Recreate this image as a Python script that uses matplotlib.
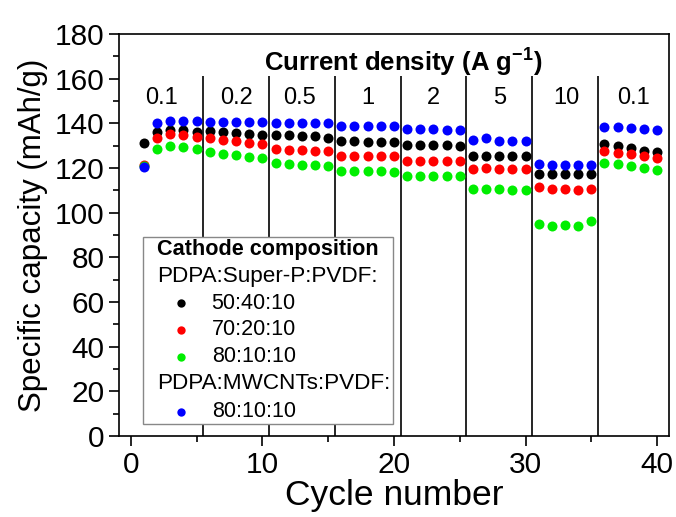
import matplotlib
matplotlib.use("Agg")
import matplotlib.pyplot as plt
from matplotlib.patches import Rectangle
import numpy as np

plt.rcParams['font.family'] = ['Liberation Sans', 'DejaVu Sans']
plt.rcParams['mathtext.fontset'] = 'custom'
plt.rcParams['mathtext.rm'] = 'Liberation Sans'
plt.rcParams['mathtext.bf'] = 'Liberation Sans:bold'

cycles = list(range(1, 41))
black_5040 = [131.3, 136.0, 137.0, 137.0, 136.3, 136.7, 136.3, 135.6, 135.2, 134.8,
              134.8, 134.6, 134.4, 134.2, 133.6, 132.1, 131.9, 131.8, 131.8, 131.6,
              130.3, 130.3, 130.2, 130.1, 130.0, 125.4, 125.4, 125.4, 125.3, 125.3,
              117.2, 117.2, 117.2, 117.2, 117.2, 130.6, 129.7, 129.0, 127.8, 127.0]
red_7020 = [121.5, 133.3, 135.2, 134.8, 134.0, 133.3, 132.6, 132.0, 131.4, 130.8,
            128.4, 128.2, 128.0, 127.8, 127.6, 125.4, 125.4, 125.3, 125.3, 125.2,
            123.2, 123.2, 123.2, 123.1, 123.1, 119.4, 119.8, 119.6, 119.5, 119.4,
            111.6, 110.4, 110.6, 110.2, 110.4, 127.8, 126.9, 126.2, 125.4, 124.3]
green_8010 = [121.0, 128.4, 129.7, 129.3, 128.4, 127.0, 126.4, 125.8, 125.0, 124.3,
              122.1, 121.8, 121.5, 121.2, 121.0, 118.7, 118.6, 118.6, 118.5, 118.4,
              116.3, 116.3, 116.2, 116.2, 116.2, 110.5, 110.4, 110.4, 110.3, 110.3,
              94.9, 94.2, 94.3, 94.2, 96.1, 122.4, 121.9, 120.9, 120.0, 119.1]
blue_mwcnt = [120.6, 140.0, 141.0, 141.0, 141.0, 140.8, 140.8, 140.6, 140.6, 140.5,
              140.2, 140.2, 140.1, 140.0, 140.0, 138.8, 138.8, 138.8, 138.7, 138.7,
              137.3, 137.3, 137.3, 137.2, 137.2, 132.6, 133.3, 132.3, 132.3, 132.2,
              121.7, 121.4, 121.4, 121.4, 121.4, 138.5, 138.2, 137.9, 137.5, 137.0]

rate_labels = ['0.1', '0.2', '0.5', '1', '2', '5', '10', '0.1']
rate_label_x = [2.3, 8.0, 12.8, 18.0, 23.0, 28.0, 33.1, 38.2]
boundaries = [5.5, 10.5, 15.5, 20.5, 25.5, 30.5, 35.5]

fig = plt.figure(figsize=(6.76, 5.17), dpi=100)
ax = fig.add_axes([0.176, 0.1567, 0.8136, 0.7775])

ax.vlines(boundaries, 0, 161, colors='black', linewidth=1.2, zorder=1)

ms = 7.2
for vals, col in [(black_5040, '#000000'), (red_7020, '#ff0000'),
                  (green_8010, '#00ee00'), (blue_mwcnt, '#0000ff')]:
    ax.plot(cycles, vals, 'o', color=col, markersize=ms, markeredgewidth=0, zorder=3)

ax.set_xlim(-0.9, 40.9)
ax.set_ylim(0, 180)
ax.set_xticks([0, 10, 20, 30, 40])
ax.set_xticks([5, 15, 25, 35], minor=True)
ax.set_yticks(np.arange(0, 181, 20))
ax.set_yticks(np.arange(10, 180, 20), minor=True)
ax.tick_params(axis='both', which='major', direction='out', length=7, width=1.2, labelsize=21.5)
ax.tick_params(axis='both', which='minor', direction='out', length=4, width=1.2)
for s in ax.spines.values():
    s.set_linewidth(1.2)

ax.set_xlabel('Cycle number', fontsize=25.5, labelpad=0)
ax.set_ylabel('Specific capacity (mAh/g)', fontsize=22.5, labelpad=5)

ax.text(0.516, 167.6, r'Current density (A g$^{\mathbf{-1}}$)', transform=ax.get_yaxis_transform(),
        ha='center', va='center', fontsize=18.5, fontweight='bold')
for lab, xx in zip(rate_labels, rate_label_x):
    ax.text(xx, 151.3, lab, ha='center', va='center', fontsize=17)

# legend box
tr = ax.transAxes
ax.add_patch(Rectangle((0.043, 0.030), 0.455, 0.465, transform=tr, facecolor='white',
                       edgecolor='#888888', linewidth=1.0, zorder=5))
rows_y = [0.4627, 0.3963, 0.3308, 0.2637, 0.1973, 0.1318, 0.0605]
xt0, xm, xt1 = 0.0685, 0.1127, 0.1685
ax.text(xt0, rows_y[0], 'Cathode composition', transform=tr, fontsize=15.6, fontweight='bold',
        va='center', ha='left', zorder=6)
ax.text(xt0, rows_y[1], 'PDPA:Super-P:PVDF:', transform=tr, fontsize=16.2, va='center', ha='left', zorder=6)
ax.text(xt0, rows_y[5], 'PDPA:MWCNTs:PVDF:', transform=tr, fontsize=16.2, va='center', ha='left', zorder=6)
entries = [(rows_y[2], '#000000', '50:40:10'), (rows_y[3], '#ff0000', '70:20:10'),
           (rows_y[4], '#00ee00', '80:10:10'), (rows_y[6], '#0000ff', '80:10:10')]
for yy, col, lab in entries:
    ax.plot([xm], [yy], 'o', color=col, markersize=6, markeredgewidth=0, transform=tr, zorder=6)
    ax.text(xt1, yy, lab, transform=tr, fontsize=15.5, va='center', ha='left', zorder=6)

fig.savefig('out.png', dpi=100)
